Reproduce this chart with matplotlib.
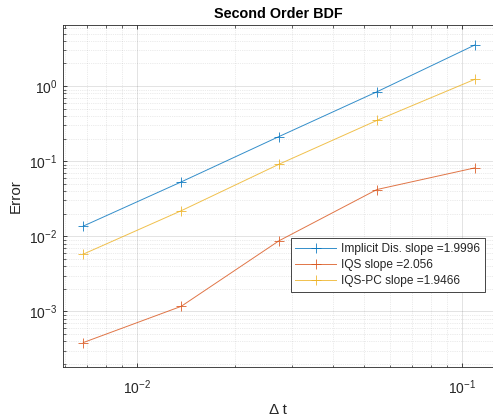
import matplotlib
matplotlib.use("Agg")
import matplotlib.pyplot as plt
from matplotlib.ticker import LogLocator, NullFormatter

plt.rcParams['font.family'] = ['Liberation Sans', 'DejaVu Sans']
plt.rcParams['mathtext.fontset'] = 'custom'
plt.rcParams['mathtext.rm'] = 'Liberation Sans'
plt.rcParams['mathtext.it'] = 'Liberation Sans'

dt = [0.006836, 0.01367, 0.02734, 0.0547, 0.1094]
err_implicit = [0.0137, 0.053, 0.213, 0.84, 3.52]
err_iqs = [0.000386, 0.00117, 0.00873, 0.042, 0.0815]
err_iqspc = [0.0058, 0.0219, 0.0912, 0.349, 1.23]
labels = ["Implicit Dis. slope =1.9996", "IQS slope =2.056", "IQS-PC slope =1.9466"]
colors = ["#0072BD", "#D95319", "#EDB120"]
title = "Second Order BDF"
xlabel = "Δ t"
ylabel = "Error"

fig = plt.figure(figsize=(4.93, 4.2), dpi=100)
ax = fig.add_axes([63/493, 1 - 367.3/420, (493 - 63)/493, (367.3 - 25)/420])

for y, c, lab in zip([err_implicit, err_iqs, err_iqspc], colors, labels):
    ax.plot(dt, y, color=c, lw=0.7, marker='+', ms=7, mew=0.7, alpha=0.8, label=lab)

ax.set_xscale('log')
ax.set_yscale('log')
ax.set_xlim(10**(-2.2277), 10**(-0.905))
ax.set_ylim(10**(-3.743), 10**(0.813))

ax.xaxis.set_major_locator(LogLocator(base=10, numticks=10))
ax.yaxis.set_major_locator(LogLocator(base=10, numticks=10))
ax.xaxis.set_minor_locator(LogLocator(base=10, subs=range(2, 10), numticks=20))
ax.yaxis.set_minor_locator(LogLocator(base=10, subs=range(2, 10), numticks=20))
ax.xaxis.set_minor_formatter(NullFormatter())
ax.yaxis.set_minor_formatter(NullFormatter())

ax.grid(True, which='major', color='#262626', alpha=0.15, lw=0.6, ls='-')
ax.grid(True, which='minor', color='#262626', alpha=0.18, lw=0.5, ls=':')
ax.set_axisbelow(True)

ax.tick_params(which='both', direction='in', colors='#262626', labelsize=10,
               top=True, right=False, labelcolor='#262626')
ax.tick_params(which='major', length=3, width=0.6)
ax.tick_params(which='minor', length=1.8, width=0.5)
ax.tick_params(axis='x', pad=8)
ax.tick_params(axis='y', pad=4)
for s in ['left', 'bottom', 'top']:
    ax.spines[s].set_color('#262626')
    ax.spines[s].set_linewidth(0.6)
ax.spines['right'].set_visible(False)

ax.set_title(title, fontsize=10.4, fontweight='bold', color='black', pad=5)
ax.set_xlabel(xlabel, fontsize=11, color='#262626', labelpad=4)
ax.set_ylabel(ylabel, fontsize=11, color='#262626', labelpad=5)

leg = ax.legend(loc='upper left', bbox_to_anchor=((290.7 - 63)/430, 1 - (238.3 - 25)/342.3),
                fontsize=8.6, frameon=True, fancybox=False, borderpad=0.4,
                handlelength=3.4, handletextpad=0.4, labelspacing=0.35, borderaxespad=0)
leg.get_frame().set_edgecolor('#262626')
leg.get_frame().set_linewidth(0.6)
leg.get_frame().set_alpha(1)
for t in leg.get_texts():
    t.set_color('#262626')

fig.savefig("out.png", dpi=100)
